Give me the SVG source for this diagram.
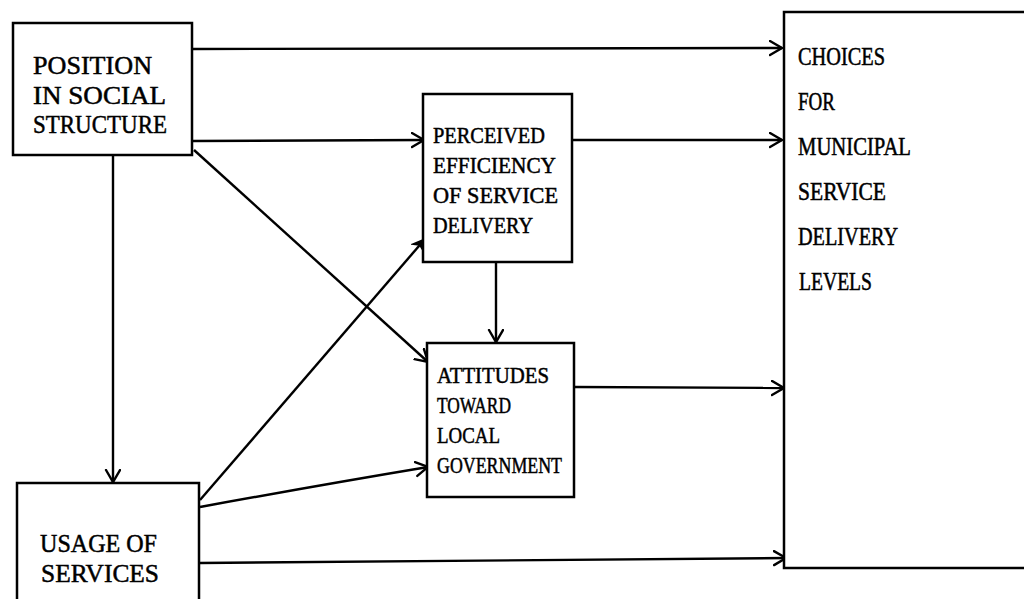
<svg xmlns="http://www.w3.org/2000/svg" width="1024" height="599" viewBox="0 0 1024 599">
  <defs>
    <marker id="arr" markerUnits="userSpaceOnUse" markerWidth="16" markerHeight="18" refX="13" refY="8" orient="auto">
      <path d="M1,1 L13,8 L1,15" fill="none" stroke="#000" stroke-width="2.4" stroke-linecap="round" stroke-linejoin="miter"/>
    </marker>
    <marker id="arrf" markerUnits="userSpaceOnUse" markerWidth="16" markerHeight="18" refX="13" refY="8" orient="auto">
      <path d="M1,2 L13,8 L3,14 L5,8 Z" fill="#000" stroke="#000" stroke-width="1.5"/>
    </marker>
  </defs>
  <style>
    .box { fill: #fff; stroke: #000; stroke-width: 2.5; }
    .ln { fill: none; stroke: #000; stroke-width: 2.4; }
    .t { font-family: "Liberation Serif", "Times New Roman", serif; fill: #000; stroke: #000; stroke-width: 0.5; }
    .big { font-size: 25.5px; }
    .mid { font-size: 23px; }
    .ch { font-size: 24.5px; }
  </style>
  <rect width="1024" height="599" fill="#fff"/>

  <g id="connectors">
    <line class="ln" x1="193" y1="49" x2="782" y2="48" marker-end="url(#arr)"/>
    <line class="ln" x1="193" y1="141" x2="424" y2="140" marker-end="url(#arr)"/>
    <line class="ln" x1="194" y1="150" x2="428" y2="362" marker-end="url(#arr)"/>
    <line class="ln" x1="113" y1="156" x2="113" y2="482" marker-end="url(#arr)"/>
    <line class="ln" x1="572" y1="140" x2="782" y2="140" marker-end="url(#arr)"/>
    <line class="ln" x1="496" y1="263" x2="496" y2="342" marker-end="url(#arr)"/>
    <line class="ln" x1="574" y1="387" x2="784" y2="388" marker-end="url(#arr)"/>
    <line class="ln" x1="200" y1="500" x2="425" y2="239" marker-end="url(#arrf)"/>
    <path class="ln" d="M200,507 Q320,485 428,467" marker-end="url(#arr)"/>
    <line class="ln" x1="200" y1="563" x2="786" y2="558" marker-end="url(#arr)"/>
  </g>

  <g id="position">
    <rect class="box" x="13" y="23" width="179" height="132"/>
    <text class="t big" x="33" y="74" textLength="119" lengthAdjust="spacingAndGlyphs">POSITION</text>
    <text class="t big" x="33" y="104" textLength="133" lengthAdjust="spacingAndGlyphs">IN SOCIAL</text>
    <text class="t big" x="33" y="133" textLength="134" lengthAdjust="spacingAndGlyphs">STRUCTURE</text>
  </g>

  <g id="perceived">
    <rect class="box" x="423" y="94" width="149" height="168"/>
    <text class="t mid" x="433" y="143" textLength="112" lengthAdjust="spacingAndGlyphs">PERCEIVED</text>
    <text class="t mid" x="433" y="173" textLength="123" lengthAdjust="spacingAndGlyphs">EFFICIENCY</text>
    <text class="t mid" x="433" y="203" textLength="125" lengthAdjust="spacingAndGlyphs">OF SERVICE</text>
    <text class="t mid" x="433" y="233" textLength="100" lengthAdjust="spacingAndGlyphs">DELIVERY</text>
  </g>

  <g id="attitudes">
    <rect class="box" x="427" y="343" width="147" height="154"/>
    <text class="t mid" x="437" y="383" textLength="112" lengthAdjust="spacingAndGlyphs">ATTITUDES</text>
    <text class="t mid" x="437" y="413" textLength="74" lengthAdjust="spacingAndGlyphs">TOWARD</text>
    <text class="t mid" x="437" y="443" textLength="63" lengthAdjust="spacingAndGlyphs">LOCAL</text>
    <text class="t mid" x="437" y="473" textLength="125" lengthAdjust="spacingAndGlyphs">GOVERNMENT</text>
  </g>

  <g id="choices">
    <rect class="box" x="784" y="12" width="260" height="556"/>
    <text class="t ch" x="798" y="65" textLength="87" lengthAdjust="spacingAndGlyphs">CHOICES</text>
    <text class="t ch" x="798" y="110" textLength="37" lengthAdjust="spacingAndGlyphs">FOR</text>
    <text class="t ch" x="798" y="155" textLength="113" lengthAdjust="spacingAndGlyphs">MUNICIPAL</text>
    <text class="t ch" x="798" y="200" textLength="88" lengthAdjust="spacingAndGlyphs">SERVICE</text>
    <text class="t ch" x="798" y="245" textLength="100" lengthAdjust="spacingAndGlyphs">DELIVERY</text>
    <text class="t ch" x="799" y="290" textLength="73" lengthAdjust="spacingAndGlyphs">LEVELS</text>
  </g>

  <g id="usage">
    <rect class="box" x="17" y="483" width="182" height="130"/>
    <text class="t big" x="40" y="552" textLength="117" lengthAdjust="spacingAndGlyphs">USAGE OF</text>
    <text class="t big" x="41" y="582" textLength="118" lengthAdjust="spacingAndGlyphs">SERVICES</text>
  </g>
</svg>
